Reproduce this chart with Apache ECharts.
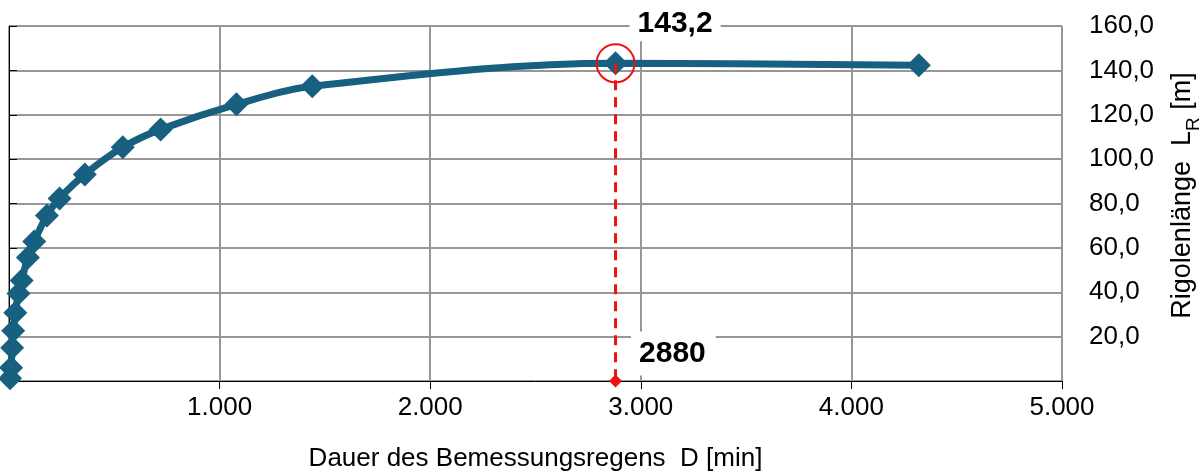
<!DOCTYPE html>
<html>
<head>
<meta charset="utf-8">
<script src="https://cdn.jsdelivr.net/npm/echarts@6/dist/echarts.min.js"></script>
<style>
  html, body { margin: 0; padding: 0; background: #fff; }
  #chart { width: 1200px; height: 473px; }
</style>
</head>
<body>
<div id="chart"></div>
<script>
// Dauer des Bemessungsregens D [min]
const durations = [5, 10, 15, 20, 30, 45, 60, 90, 120, 180, 240, 360, 540, 720, 1080, 1440, 2880, 4320]
// Rigolenlaenge L_R [m]
const lengths = [1.2, 6.0, 15.0, 22.7, 30.8, 39.4, 45.3, 55.7, 62.9, 74.6, 82.3, 93.1, 105.3, 113.4, 124.7, 132.8, 143.2, 142.3]
// massgebender Punkt
const markD = 2880
const markL = 143.2

const xTicks = [0, 1000, 2000, 3000, 4000, 5000]
const yTicks = [0, 20, 40, 60, 80, 100, 120, 140, 160]

const fontName = '"Liberation Sans", Arial, sans-serif'
const lineColor = '#17607f'
const gridColor = '#979797'

function fmtX(v) {
  if (v === 0) return ''
  return String(v).replace(/\B(?=(\d{3})+(?!\d))/g, '.')
}
function fmtY(v) {
  if (v === 0) return ''
  return v.toFixed(1).replace('.', ',')
}

const chart = echarts.init(document.getElementById('chart'))
chart.setOption({
  animation: false,
  backgroundColor: '#fff',
  grid: {
    left: 9,
    right: 138,
    top: 26,
    bottom: 92,
    outerBoundsMode: 'none'
  },
  xAxis: {
    type: 'value',
    min: xTicks[0],
    max: xTicks[xTicks.length - 1],
    interval: 1000,
    name: 'Dauer des Bemessungsregens  D [min]',
    nameLocation: 'middle',
    nameGap: 65,
    nameTextStyle: { fontFamily: fontName, fontSize: 26, color: '#000' },
    axisLine: { show: true, onZero: false, lineStyle: { color: '#000', width: 1 } },
    axisTick: { show: true, length: 8, inside: false, lineStyle: { color: '#000' } },
    axisLabel: {
      fontFamily: fontName,
      fontSize: 26,
      color: '#000',
      margin: 14,
      formatter: fmtX
    },
    splitLine: { show: true, lineStyle: { color: gridColor, width: 2 } }
  },
  yAxis: {
    type: 'value',
    position: 'right',
    min: yTicks[0],
    max: yTicks[yTicks.length - 1],
    interval: 20,
    name: '{n|Rigolenlänge  L}{s|R}{n| [m]}',
    nameLocation: 'middle',
    nameRotate: 90,
    nameGap: 104,
    nameTextStyle: {
      fontFamily: fontName,
      fontSize: 27,
      color: '#000',
      padding: [0, 0, 0, 16],
      rich: {
        n: { fontFamily: fontName, fontSize: 27, color: '#000', verticalAlign: 'bottom', lineHeight: 30 },
        s: { fontFamily: fontName, fontSize: 19, color: '#000', verticalAlign: 'bottom', lineHeight: 22, padding: [0, 0, -7, 0] }
      }
    },
    axisLine: { show: true, lineStyle: { color: '#000', width: 1 } },
    axisTick: { show: true, length: 8, inside: false, lineStyle: { color: '#000' } },
    axisLabel: {
      fontFamily: fontName,
      fontSize: 26,
      color: '#000',
      margin: 27,
      formatter: fmtY
    },
    splitLine: { show: true, lineStyle: { color: gridColor, width: 2 } }
  },
  series: [
    {
      name: 'Rigolenlänge',
      type: 'line',
      data: durations.map((d, i) => [d, lengths[i]]),
      smooth: 0.35,
      symbol: 'diamond',
      symbolSize: 24,
      clip: false,
      lineStyle: { color: lineColor, width: 7 },
      itemStyle: { color: lineColor },
      emphasis: { disabled: true },
      z: 3
    },
    {
      name: 'Bemessung',
      type: 'line',
      data: [
        {
          value: [markD, markL],
          symbol: 'circle',
          symbolSize: 38,
          itemStyle: { color: 'rgba(0,0,0,0)', borderColor: '#ee1111', borderWidth: 2 },
          label: {
            show: true,
            position: [34, -20],
            align: 'left',
            verticalAlign: 'middle',
            formatter: () => markL.toFixed(1).replace('.', ','),
            fontFamily: fontName,
            fontWeight: 'bold',
            fontSize: 30,
            color: '#000',
            backgroundColor: '#fff',
            padding: [4, 8, 2, 8]
          }
        },
        {
          value: [markD, 0],
          symbol: 'diamond',
          symbolSize: 13,
          itemStyle: { color: '#ee1111' },
          label: {
            show: true,
            position: [22, -21],
            align: 'left',
            verticalAlign: 'middle',
            formatter: () => String(markD),
            fontFamily: fontName,
            fontWeight: 'bold',
            fontSize: 30,
            color: '#000',
            backgroundColor: '#fff',
            padding: [7, 10, 7, 8]
          }
        }
      ],
      lineStyle: { color: '#ee1111', width: 3, type: [10, 7] },
      clip: false,
      emphasis: { disabled: true },
      z: 5
    }
  ]
})
</script>
</body>
</html>
